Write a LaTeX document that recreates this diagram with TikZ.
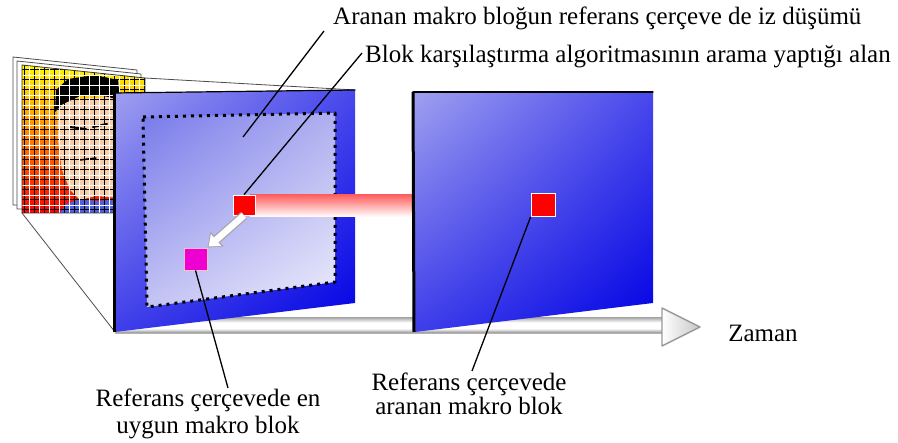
\documentclass[tikz,border=0pt]{standalone}
\usepackage{fontspec}
\setmainfont{Liberation Serif}
\usetikzlibrary{arrows.meta,calc,shadings}
\definecolor{skin}{RGB}{246,206,170}
\definecolor{shirt}{RGB}{80,96,224}
\definecolor{mag}{RGB}{236,0,210}
\pgfdeclareverticalshading{tube}{100bp}{color(0bp)=(black!45); color(25bp)=(black!45); color(40bp)=(white); color(60bp)=(white); color(75bp)=(black!30); color(100bp)=(black!30)}
\tikzset{
  lbl/.style={font=\fontsize{25}{27}\selectfont,inner sep=0pt},
  blk/.style={draw=white,line width=0.8pt,inner sep=0pt,minimum width=22pt,minimum height=20pt},
  leader/.style={line width=1.3pt,line cap=butt},
  sheet/.style={fill=white,draw=black!70,line width=0.8pt},
  frameface/.style={upper left={rgb,255:red,160;green,160;blue,240},upper right={rgb,255:red,72;green,72;blue,236},lower left={rgb,255:red,62;green,62;blue,234},lower right={rgb,255:red,0;green,0;blue,228}},
}
\begin{document}
\begin{tikzpicture}[line cap=round,line join=round,x=1pt,y=-1pt]
\useasboundingbox (0,0) rectangle (898,443);
\draw [sheet] (13.,57.)-- (137.,70.)-- (137.,205.)-- (13.,205.)-- cycle;
\draw [sheet] (17.,61.)-- (141.,74.)-- (141.,209.)-- (17.,209.)-- cycle;
\begin{scope}
\clip (22.,65.)-- (145.,78.)-- (145.,213.)-- (22.,213.)-- cycle;
\shade [top color=yellow!95!orange,middle color=orange,bottom color=red] (22.,65.) rectangle (145.,213.);
\fill [skin] (57.,100.)-- (145.,95.)-- (145.,200.)-- (96.,196.)-- (80.,200.)-- (70.,190.)-- (62.,170.)-- (58.,140.)-- cycle;
\fill [black] (55.,112.)-- (56.,90.)-- (68.,79.)-- (95.,75.)-- (118.,80.)-- (120.,100.)-- (100.,95.)-- (80.,96.)-- (63.,104.)-- cycle;
\fill [shirt] (60.,213.)-- (66.,204.)-- (80.,199.)-- (96.,201.)-- (145.,197.)-- (145.,213.)-- cycle;
\draw [line width=2pt] (70.,127.)-- (86.,129.);
\draw [line width=2pt] (93.,127.)-- (107.,124.);
\draw [line width=1.5pt] (80.,160.)-- (96.,158.);
\foreach \x in {24,34,...,144}
  \draw [line width=1pt] (\x,60.)-- (\x,215.);
\foreach \y in {70,80,...,210}
  \draw [line width=1pt] (20.,\y)-- (147.,\y);
\foreach \x in {29,39,...,149}
  \draw [white,line width=0.7pt] (\x,60.)-- (\x,215.);
\foreach \y in {75,85,...,215}
  \draw [white,line width=0.7pt] (20.,\y)-- (147.,\y);
\end{scope}
\draw [black!80,line width=0.8pt] (22.,65.)-- (145.,78.)-- (145.,213.)-- (22.,213.)-- cycle;
\draw [line width=0.8pt,black!70] (22.,213.)-- (115.,332.);
\draw [line width=0.8pt,black!70] (145.,78.)-- (355.,90.);
\draw [draw=black!30,line width=0.6pt,shading=tube] (115.,318.) rectangle (662.,333.);
\draw [draw=black!40,line width=1.4pt,left color=white,right color=black!22] (662.,308.)-- (700.,327.)-- (662.,346.)-- cycle;
\node [lbl] (zaman) at (763.,333.) {Zaman};
\path [frameface] (115.,93.)-- (355.,90.)-- (355.,303.)-- (115.,332.)-- cycle;
\draw [line width=1.2pt] (114.,93.)-- (355.,90.);
\draw [line width=3pt,line cap=butt] (114.,332.)-- (114.,93.);
\path [upper left={rgb,255:red,120;green,122;blue,234},upper right={rgb,255:red,176;green,176;blue,240},lower left={rgb,255:red,196;green,196;blue,244},lower right={rgb,255:red,236;green,236;blue,252}] (143.,117.)-- (335.,113.)-- (335.,282.)-- (147.,307.)-- cycle;
\draw [line width=3pt,line cap=butt,dash pattern=on 3pt off 5pt] (143.,117.)-- (335.,113.)-- (335.,282.)-- (147.,307.)-- cycle;
\path [top color=red!62!white,middle color=red!18!white,bottom color=white] (250.,195.) rectangle (415.,217.);
\path [frameface] (413.,92.)-- (653.,92.)-- (653.,303.)-- (415.,332.)-- cycle;
\draw [line width=1.2pt] (413.,92.)-- (653.,92.);
\draw [line width=3pt,line cap=butt] (414.,332.)-- (413.,92.);
\node [blk,fill=red] (ref1) at (244.,205.) {};
\node [blk,fill=mag,draw=pink,minimum width=23pt,minimum height=22pt] (best) at (195.5,259.) {};
\node [blk,fill=red,minimum width=24pt,minimum height=23pt] (ref2) at (543.,205.) {};
\draw [line width=9pt,line cap=butt,black!35,-{Triangle[width=19pt,length=13pt]}] (ref1.south) -- (best.north east);
\draw [line width=6.5pt,line cap=butt,white,shorten >=1.6pt,-{Triangle[width=15pt,length=10pt]}] (ref1.south) -- (best.north east);
\node [lbl,anchor=base west] (lblA) at (333.,25.) {Aranan makro bloğun referans çerçeve de iz düşümü};
\node [lbl,anchor=base west] (lblB) at (365.,63.) {Blok karşılaştırma algoritmasının arama yaptığı alan};
\node [lbl,align=center,anchor=north] (lblC) at (208.,389.) {Referans çerçevede en\\uygun makro blok};
\node [lbl,align=center,anchor=north] (lblD) at (469.,373.) {Referans çerçevede\\[-3pt]aranan makro blok};
\coordinate (area) at (243.,137.);
\draw [leader] (area)-- ($(lblA.base west)+(-9,6)$);
\draw [leader] (ref1.north)-- ($(lblB.base west)+(-3,-10)$);
\draw [leader] (best.south)-- ($(lblC.north)+(20,-1)$);
\draw [leader] (ref2.south west)-- ($(lblD.north)+(3,-2)$);
\end{tikzpicture}
\end{document}
